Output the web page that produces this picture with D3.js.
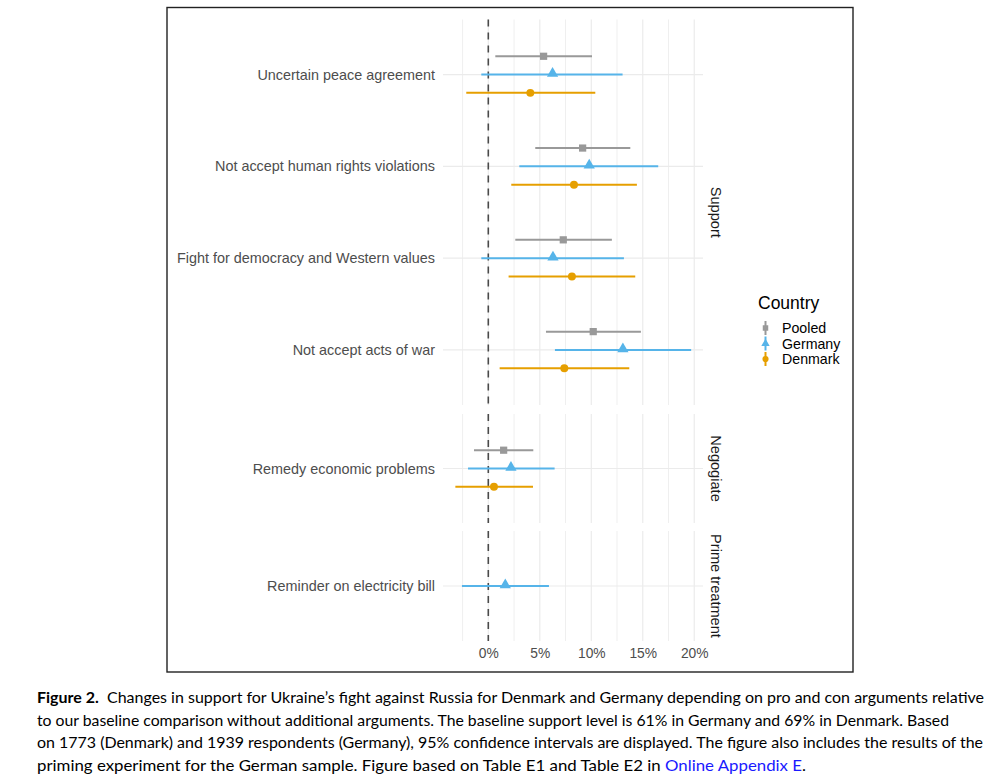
<!DOCTYPE html>
<html>
<head>
<meta charset="utf-8">
<script src="https://cdn.jsdelivr.net/npm/d3@7"></script>
<style>
  html, body { margin: 0; padding: 0; background: #fff; }
  svg { display: block; }
</style>
</head>
<body>
<svg id="chart" width="1000" height="783"></svg>
<script>
// ---------------- DATA ----------------
const countries = ["Pooled", "Germany", "Denmark"];
const colors = ["#999999", "#56B4E9", "#E69F00"];
const shapes = ["square", "triangle", "circle"];

const panels = ["Support", "Negogiate", "Prime treatment"];
const supportCats = ["Uncertain peace agreement", "Not accept human rights violations",
  "Fight for democracy and Western values", "Not accept acts of war"];
const negotiateCats = ["Remedy economic problems"];
const primeCats = ["Reminder on electricity bill"];

// estimates (%), lower and upper 95% CI bounds
const pooledEst   = [5.37, 9.16, 7.28, 10.19, 1.49];
const pooledLo    = [0.68, 4.56, 2.62, 5.60, -1.39];
const pooledHi    = [10.07, 13.79, 12.00, 14.82, 4.37];
const germanyEst  = [6.24, 9.80, 6.28, 13.07, 2.20, 1.65];
const germanyLo   = [-0.68, 3.01, -0.68, 6.47, -1.97, -2.56];
const germanyHi   = [13.04, 16.50, 13.17, 19.70, 6.44, 5.89];
const denmarkEst  = [4.08, 8.32, 8.12, 7.38, 0.55];
const denmarkLo   = [-2.14, 2.23, 1.97, 1.10, -3.20];
const denmarkHi   = [10.39, 14.43, 14.27, 13.69, 4.34];

const xTicks = [0, 5, 10, 15, 20];
const xMinor = [-2.5, 2.5, 7.5, 12.5, 17.5];

const captionLines = [
  [["Figure 2.", true], ["  Changes in support for Ukraine’s fight against Russia for Denmark and Germany depending on pro and con arguments relative", false]],
  [["to our baseline comparison without additional arguments. The baseline support level is 61% in Germany and 69% in Denmark. Based", false]],
  [["on 1773 (Denmark) and 1939 respondents (Germany), 95% confidence intervals are displayed. The figure also includes the results of the", false]],
  [["priming experiment for the German sample. Figure based on Table E1 and Table E2 in ", false], ["Online Appendix E", false, "#1a1aff"], [".", false]]
];

// ---------------- BUILD ROWS ----------------
const allCats = supportCats.concat(negotiateCats, primeCats);
const panelOf = c => supportCats.includes(c) ? "Support" : (negotiateCats.includes(c) ? "Negogiate" : "Prime treatment");
const rows = [];
allCats.forEach((cat, i) => {
  if (i < pooledEst.length) rows.push({cat, country: "Pooled", est: pooledEst[i], lo: pooledLo[i], hi: pooledHi[i]});
  if (i < germanyEst.length) rows.push({cat, country: "Germany", est: germanyEst[i], lo: germanyLo[i], hi: germanyHi[i]});
  if (i < denmarkEst.length) rows.push({cat, country: "Denmark", est: denmarkEst[i], lo: denmarkLo[i], hi: denmarkHi[i]});
});

// ---------------- LAYOUT ----------------
const svg = d3.select("#chart");
const FONT = "'Liberation Sans', Arial, Helvetica, sans-serif";
const panelLeft = 443, panelRight = 703;
const x = d3.scaleLinear().domain([-4.4, 20.85]).range([panelLeft, panelRight]);

const panelDefs = [
  {name: "Support", cats: supportCats, top: 19.5, bottom: 405},
  {name: "Negogiate", cats: negotiateCats, top: 414, bottom: 523},
  {name: "Prime treatment", cats: primeCats, top: 531, bottom: 641}
];
panelDefs.forEach(p => {
  p.y = d3.scalePoint().domain(p.cats).range([p.top, p.bottom]).padding(0.6);
});
const dodge = d3.scalePoint().domain(countries).range([-18.3, 18.3]);
const color = d3.scaleOrdinal().domain(countries).range(colors);
const shape = d3.scaleOrdinal().domain(countries).range(shapes);
const symType = {square: d3.symbolSquare, triangle: d3.symbolTriangle, circle: d3.symbolCircle};
const symSize = {square: 52, triangle: 55, circle: 50};

// outer frame
svg.append("rect").attr("x", 167).attr("y", 7.5).attr("width", 686).attr("height", 664.5)
  .attr("fill", "none").attr("stroke", "#222").attr("stroke-width", 1.4);

panelDefs.forEach(p => {
  const g = svg.append("g");
  // minor vertical grid
  g.selectAll(".vminor").data(xMinor).join("line")
    .attr("x1", d => x(d)).attr("x2", d => x(d)).attr("y1", p.top).attr("y2", p.bottom)
    .attr("stroke", "#efefef").attr("stroke-width", 1);
  // major vertical grid
  g.selectAll(".vmajor").data(xTicks).join("line")
    .attr("x1", d => x(d)).attr("x2", d => x(d)).attr("y1", p.top).attr("y2", p.bottom)
    .attr("stroke", "#ebebeb").attr("stroke-width", 1.2);
  // horizontal grid
  g.selectAll(".hmajor").data(p.cats).join("line")
    .attr("x1", panelLeft).attr("x2", panelRight).attr("y1", d => p.y(d)).attr("y2", d => p.y(d))
    .attr("stroke", "#ebebeb").attr("stroke-width", 1.2);
  // zero reference line
  g.append("line").attr("x1", x(0)).attr("x2", x(0)).attr("y1", p.top).attr("y2", p.bottom)
    .attr("stroke", "#4a4a4a").attr("stroke-width", 1.6).attr("stroke-dasharray", "7,6");
  // y axis labels
  const yAxis = d3.axisLeft(p.y).tickSize(0).tickPadding(8);
  const ya = g.append("g").attr("transform", `translate(${panelLeft},0)`).call(yAxis);
  ya.select(".domain").remove();
  ya.selectAll("text").attr("font-family", FONT).attr("font-size", 14.4).attr("fill", "#4d4d4d");
  // strip label
  g.append("text").attr("transform", `translate(${716},${(p.top + p.bottom) / 2}) rotate(90)`)
    .attr("text-anchor", "middle").attr("dominant-baseline", "central")
    .attr("font-family", FONT).attr("font-size", 14.6).attr("fill", "#1a1a1a").text(p.name);

  // data
  const pr = rows.filter(r => panelOf(r.cat) === p.name);
  const nCountries = c => rows.filter(r => r.cat === c).length;
  const yPos = r => p.y(r.cat) + (nCountries(r.cat) > 1 ? dodge(r.country) : 0);
  g.selectAll(".ci").data(pr).join("line")
    .attr("x1", r => x(r.lo)).attr("x2", r => x(r.hi)).attr("y1", yPos).attr("y2", yPos)
    .attr("stroke", r => color(r.country)).attr("stroke-width", 2);
  g.selectAll(".pt").data(pr).join("path")
    .attr("transform", r => `translate(${x(r.est)},${yPos(r) + (shape(r.country) === "triangle" ? -1 : 0)})`)
    .attr("d", r => d3.symbol().type(symType[shape(r.country)]).size(symSize[shape(r.country)])())
    .attr("fill", r => color(r.country));
});

// x axis (bottom)
const xAxis = d3.axisBottom(x).tickValues(xTicks).tickSize(0).tickPadding(0).tickFormat(d => d + "%");
const xa = svg.append("g").attr("transform", `translate(0,${648.5})`).call(xAxis);
xa.select(".domain").remove();
xa.selectAll("text").attr("font-family", FONT).attr("font-size", 13.8).attr("fill", "#4d4d4d").attr("dy", "0.71em");

// legend
const leg = svg.append("g");
leg.append("text").attr("x", 758).attr("y", 309).attr("font-family", FONT).attr("font-size", 17.5)
  .attr("fill", "#000").text("Country");
countries.forEach((c, i) => {
  const yy = 328 + i * 15.5;
  leg.append("line").attr("x1", 765.5).attr("x2", 765.5).attr("y1", yy - 7).attr("y2", yy + 7)
    .attr("stroke", color(c)).attr("stroke-width", 2);
  leg.append("path").attr("transform", `translate(765.5,${yy})`)
    .attr("d", d3.symbol().type(symType[shape(c)]).size(30)()).attr("fill", color(c));
  leg.append("text").attr("x", 782).attr("y", yy).attr("dominant-baseline", "central")
    .attr("font-family", FONT).attr("font-size", 14.2).attr("fill", "#000").text(c);
});

// caption
const capBase = [703, 725.5, 748, 770.5];
const capEnd = [984, 949, 983, 806];
const CAPFONT = "Lato, 'Open Sans', sans-serif";
captionLines.forEach((line, i) => {
  const t = svg.append("text").attr("x", 37).attr("y", capBase[i])
    .attr("font-family", CAPFONT).attr("font-size", 15.8).attr("fill", "#000")
    .attr("xml:space", "preserve").style("white-space", "pre")
    .attr("textLength", capEnd[i] - 37).attr("lengthAdjust", "spacingAndGlyphs");
  line.forEach(seg => {
    t.append("tspan").attr("font-weight", seg[1] ? "bold" : "normal")
      .attr("fill", seg[2] || "#000").text(seg[0]);
  });
});
</script>
</body>
</html>
